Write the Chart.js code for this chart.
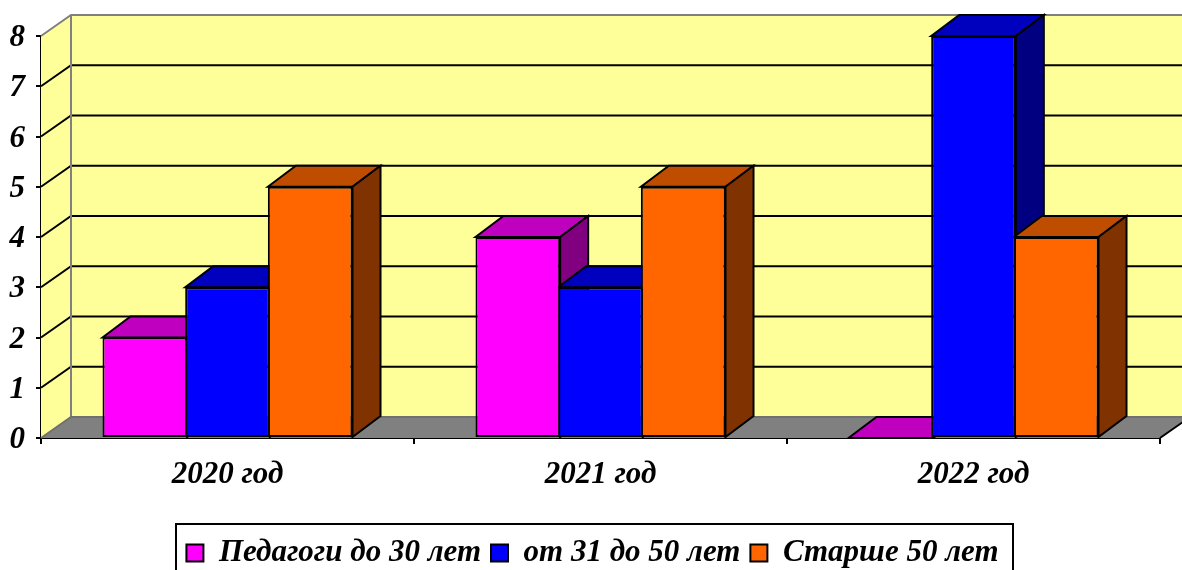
<!DOCTYPE html>
<html>
<head>
<meta charset="utf-8">
<script src="https://cdn.jsdelivr.net/npm/chart.js@4"></script>
<style>
    html, body { margin: 0; padding: 0; background: #fff; overflow: hidden; }
    canvas { display: block; }
</style>
</head>
<body>
<canvas id="chart" width="1182" height="570"></canvas>
<script>
const years = ["2020 год", "2021 год", "2022 год"];
const seriesNames = ["Педагоги до 30 лет", "от 31 до 50 лет", "Старше 50 лет"];
const young = [2, 4, 0];
const middle = [3, 3, 8];
const senior = [5, 5, 4];

const frontColors = ["#FF00FF", "#0000FF", "#FF6600"];
const topColors = ["#BF00BF", "#0000BF", "#BF4D00"];
const sideColors = ["#800080", "#000080", "#803300"];

const depthX = 30;
const depthY = 21;
const barDepthX = 28;
const fontFace = "'Liberation Serif', 'Times New Roman', serif";

function polygon(ctx, pts, fill, stroke, width) {
    ctx.beginPath();
    pts.forEach((p, i) => i ? ctx.lineTo(p[0], p[1]) : ctx.moveTo(p[0], p[1]));
    ctx.closePath();
    ctx.fillStyle = fill;
    ctx.fill();
    if (stroke) {
        ctx.strokeStyle = stroke;
        ctx.lineWidth = width;
        ctx.stroke();
    }
}

function line(ctx, pts, color, width) {
    ctx.beginPath();
    pts.forEach((p, i) => i ? ctx.lineTo(p[0], p[1]) : ctx.moveTo(p[0], p[1]));
    ctx.strokeStyle = color;
    ctx.lineWidth = width;
    ctx.stroke();
}

// walls, floor and the grid running across them
const roomPlugin = {
    id: "room",
    afterLayout(chart) {
        // legend sits a bit right of the canvas centre
        chart.legend.left = 25;
    },
    beforeDatasetsDraw(chart) {
        const ctx = chart.ctx;
        const a = chart.chartArea;
        const yScale = chart.scales.y;
        ctx.save();
        polygon(ctx, [[a.left + depthX, a.top - depthY], [a.right + depthX, a.top - depthY],
            [a.right + depthX, a.bottom - depthY], [a.left + depthX, a.bottom - depthY]], "#FFFF99");
        polygon(ctx, [[a.left, a.top], [a.left + depthX, a.top - depthY],
            [a.left + depthX, a.bottom - depthY], [a.left, a.bottom]], "#FFFF99");
        polygon(ctx, [[a.left, a.bottom], [a.left + depthX, a.bottom - depthY],
            [a.right + depthX, a.bottom - depthY], [a.right, a.bottom]], "#808080");

        yScale.ticks.forEach(t => {
            const y = yScale.getPixelForValue(t.value);
            if (t.value > 0 && t.value < yScale.max) {
                line(ctx, [[a.left, y], [a.left + depthX, y - depthY], [a.right + depthX, y - depthY]], "#000", 2);
            }
        });
        line(ctx, [[a.left, a.top], [a.left + depthX, a.top - depthY], [a.right + depthX, a.top - depthY]], "#808080", 2);
        line(ctx, [[a.left + depthX, a.top - depthY], [a.left + depthX, a.bottom - depthY]], "#808080", 2);
        line(ctx, [[a.left, a.bottom], [a.left + depthX, a.bottom - depthY], [a.right + depthX, a.bottom - depthY]], "#707070", 2);
        line(ctx, [[a.right, a.bottom], [a.right + depthX, a.bottom - depthY]], "#000", 2);

        // tops and sides first, the library then paints the front faces over them
        chart.data.datasets.forEach((ds, i) => {
            chart.getDatasetMeta(i).data.forEach(bar => {
                const l = bar.x - bar.width / 2;
                const r = bar.x + bar.width / 2;
                polygon(ctx, [[l, bar.y], [l + barDepthX, bar.y - depthY], [r + barDepthX, bar.y - depthY], [r, bar.y]],
                    topColors[i], "#000", 2);
                if (bar.base > bar.y) {
                    polygon(ctx, [[r, bar.y], [r + barDepthX, bar.y - depthY], [r + barDepthX, bar.base - depthY], [r, bar.base]],
                        sideColors[i], "#000", 2);
                }
            });
        });
        ctx.restore();
    },
    afterDraw(chart) {
        // frame round the legend, it runs off the bottom of the picture
        const ctx = chart.ctx;
        ctx.save();
        ctx.strokeStyle = "#000";
        ctx.lineWidth = 2;
        ctx.strokeRect(176, 524, 837, 60);
        ctx.restore();
    }
};

new Chart(document.getElementById("chart"), {
    type: "bar",
    data: {
        labels: years,
        datasets: [young, middle, senior].map((values, i) => ({
            label: seriesNames[i],
            data: values,
            backgroundColor: frontColors[i],
            borderColor: "#000",
            borderWidth: 2,
            borderSkipped: false,
            categoryPercentage: 0.665,
            barPercentage: 1.024
        }))
    },
    options: {
        responsive: false,
        animation: false,
        layout: { padding: { top: 36, right: 22, left: 0, bottom: -8.5 } },
        plugins: {
            tooltip: { enabled: false },
            legend: {
                position: "bottom",
                labels: {
                    boxWidth: 17,
                    boxHeight: 17,
                    padding: 10,
                    color: "#000",
                    font: { family: fontFace, size: 31, weight: "bold", style: "italic" }
                }
            }
        },
        scales: {
            x: {
                afterFit(scale) { scale.height = 89.5; },
                grid: { drawOnChartArea: false, color: "#000", tickColor: "#000", tickLength: 6, lineWidth: 2 },
                border: { color: "#000", width: 2 },
                ticks: {
                    color: "#000",
                    padding: 12,
                    font: { family: fontFace, size: 31, weight: "bold", style: "italic" }
                }
            },
            y: {
                min: 0,
                max: 8,
                afterFit(scale) { scale.width = 41; },
                grid: { drawOnChartArea: false, color: "#000", tickColor: "#000", tickLength: 5, lineWidth: 2 },
                border: { color: "#000", width: 2 },
                ticks: {
                    stepSize: 1,
                    color: "#000",
                    padding: 11,
                    labelOffset: 2,
                    font: { family: fontFace, size: 31, weight: "bold", style: "italic" }
                }
            }
        }
    },
    plugins: [roomPlugin]
});
</script>
</body>
</html>
